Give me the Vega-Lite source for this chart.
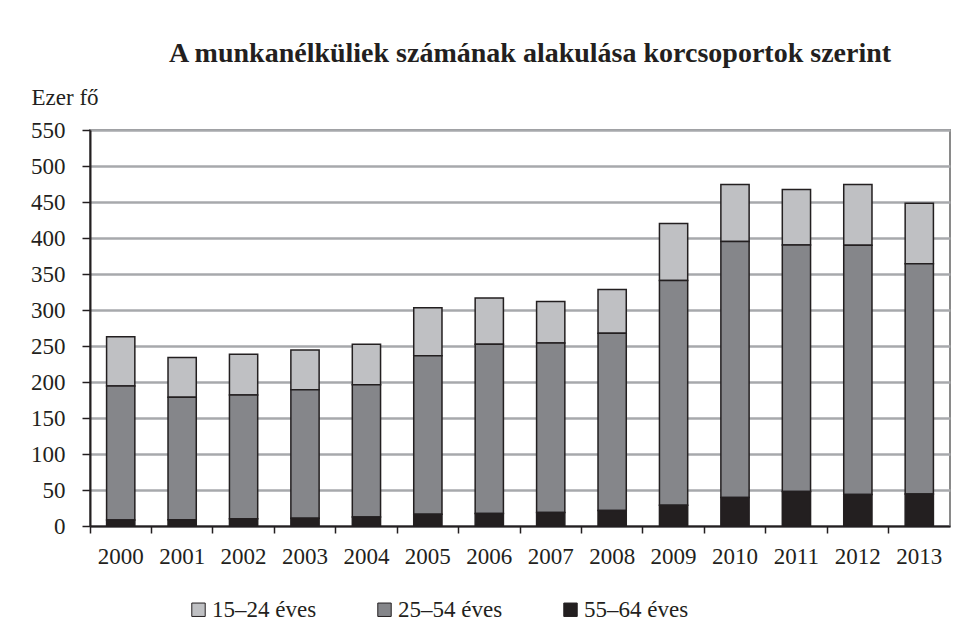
{
  "$schema": "https://vega.github.io/schema/vega-lite/v6.json",
  "autosize": {"type": "none"},
  "padding": {"left": 90, "top": 130, "right": 24, "bottom": 114},
  "width": 860,
  "height": 396,
  "background": "white",
  "title": {
    "text": "A munkanélküliek számának alakulása korcsoportok szerint",
    "font": "'Liberation Serif', 'DejaVu Serif', serif",
    "fontSize": 28,
    "fontWeight": "bold",
    "color": "#231f20",
    "anchor": "middle",
    "dx": 10,
    "offset": 18
  },
  "config": {
    "font": "'Liberation Serif', 'DejaVu Serif', serif",
    "view": {"stroke": "#8a8a8a", "strokeWidth": 2}
  },
  "data": {
    "values": [
      {"ev": "2000", "korcsoport": "15–24 éves", "fo": 68.5},
      {"ev": "2000", "korcsoport": "25–54 éves", "fo": 186.1},
      {"ev": "2000", "korcsoport": "55–64 éves", "fo": 8.4},
      {"ev": "2001", "korcsoport": "15–24 éves", "fo": 55.3},
      {"ev": "2001", "korcsoport": "25–54 éves", "fo": 169.9},
      {"ev": "2001", "korcsoport": "55–64 éves", "fo": 8.8},
      {"ev": "2002", "korcsoport": "15–24 éves", "fo": 56.6},
      {"ev": "2002", "korcsoport": "25–54 éves", "fo": 172.0},
      {"ev": "2002", "korcsoport": "55–64 éves", "fo": 10.0},
      {"ev": "2003", "korcsoport": "15–24 éves", "fo": 55.2},
      {"ev": "2003", "korcsoport": "25–54 éves", "fo": 178.7},
      {"ev": "2003", "korcsoport": "55–64 éves", "fo": 10.7},
      {"ev": "2004", "korcsoport": "15–24 éves", "fo": 56.2},
      {"ev": "2004", "korcsoport": "25–54 éves", "fo": 183.8},
      {"ev": "2004", "korcsoport": "55–64 éves", "fo": 12.5},
      {"ev": "2005", "korcsoport": "15–24 éves", "fo": 66.7},
      {"ev": "2005", "korcsoport": "25–54 éves", "fo": 220.1},
      {"ev": "2005", "korcsoport": "55–64 éves", "fo": 16.2},
      {"ev": "2006", "korcsoport": "15–24 éves", "fo": 64.0},
      {"ev": "2006", "korcsoport": "25–54 éves", "fo": 235.3},
      {"ev": "2006", "korcsoport": "55–64 éves", "fo": 17.2},
      {"ev": "2007", "korcsoport": "15–24 éves", "fo": 57.6},
      {"ev": "2007", "korcsoport": "25–54 éves", "fo": 235.7},
      {"ev": "2007", "korcsoport": "55–64 éves", "fo": 18.6},
      {"ev": "2008", "korcsoport": "15–24 éves", "fo": 60.8},
      {"ev": "2008", "korcsoport": "25–54 éves", "fo": 246.4},
      {"ev": "2008", "korcsoport": "55–64 éves", "fo": 21.4},
      {"ev": "2009", "korcsoport": "15–24 éves", "fo": 78.9},
      {"ev": "2009", "korcsoport": "25–54 éves", "fo": 312.3},
      {"ev": "2009", "korcsoport": "55–64 éves", "fo": 28.8},
      {"ev": "2010", "korcsoport": "15–24 éves", "fo": 79.4},
      {"ev": "2010", "korcsoport": "25–54 éves", "fo": 355.5},
      {"ev": "2010", "korcsoport": "55–64 éves", "fo": 39.5},
      {"ev": "2011", "korcsoport": "15–24 éves", "fo": 77.1},
      {"ev": "2011", "korcsoport": "25–54 éves", "fo": 342.5},
      {"ev": "2011", "korcsoport": "55–64 éves", "fo": 47.8},
      {"ev": "2012", "korcsoport": "15–24 éves", "fo": 84.5},
      {"ev": "2012", "korcsoport": "25–54 éves", "fo": 346.3},
      {"ev": "2012", "korcsoport": "55–64 éves", "fo": 43.6},
      {"ev": "2013", "korcsoport": "15–24 éves", "fo": 84.0},
      {"ev": "2013", "korcsoport": "25–54 éves", "fo": 319.8},
      {"ev": "2013", "korcsoport": "55–64 éves", "fo": 44.6}
    ]
  },
  "mark": {"type": "bar", "width": {"band": 0.46}, "stroke": "#231f20", "strokeWidth": 1.5},
  "encoding": {
    "x": {
      "field": "ev",
      "type": "ordinal",
      "scale": {"paddingInner": 0, "paddingOuter": 0},
      "axis": {
        "title": null,
        "labelAngle": 0,
        "labelFont": "'Liberation Serif', 'DejaVu Serif', serif",
        "labelFontSize": 23,
        "labelColor": "#231f20",
        "labelPadding": 12,
        "bandPosition": 0,
        "ticks": true,
        "tickSize": 7,
        "tickColor": "#231f20",
        "tickWidth": 1.5,
        "domainColor": "#231f20",
        "domainWidth": 2,
        "grid": false
      }
    },
    "y": {
      "field": "fo",
      "type": "quantitative",
      "aggregate": "sum",
      "stack": "zero",
      "scale": {"domain": [0, 550], "nice": false},
      "axis": {
        "values": [0, 50, 100, 150, 200, 250, 300, 350, 400, 450, 500, 550],
        "title": "Ezer fő",
        "titleAngle": 0,
        "titleAlign": "left",
        "titleBaseline": "alphabetic",
        "titleX": -59,
        "titleY": -26,
        "titleFont": "'Liberation Serif', 'DejaVu Serif', serif",
        "titleFontSize": 23,
        "titleFontWeight": "normal",
        "titleColor": "#231f20",
        "labelFont": "'Liberation Serif', 'DejaVu Serif', serif",
        "labelFontSize": 23,
        "labelColor": "#231f20",
        "labelPadding": 17,
        "tickSize": 8,
        "tickColor": "#231f20",
        "tickWidth": 1.5,
        "domainColor": "#231f20",
        "domainWidth": 2,
        "grid": true,
        "gridColor": "#a7a9ac",
        "gridWidth": 2.5
      }
    },
    "color": {
      "field": "korcsoport",
      "type": "nominal",
      "scale": {
        "domain": ["15–24 éves", "25–54 éves", "55–64 éves"],
        "range": ["#bfc0c3", "#85868a", "#231f20"]
      },
      "legend": {
        "title": null,
        "orient": "none",
        "direction": "horizontal",
        "legendX": 97,
        "legendY": 468,
        "symbolType": "square",
        "symbolSize": 180,
        "symbolStrokeColor": "#231f20",
        "symbolStrokeWidth": 1,
        "labelFont": "'Liberation Serif', 'DejaVu Serif', serif",
        "labelFontSize": 23,
        "labelColor": "#231f20",
        "labelOffset": 2,
        "columnPadding": 56
      }
    },
    "order": {"field": "korcsoport", "sort": "descending"}
  }
}
